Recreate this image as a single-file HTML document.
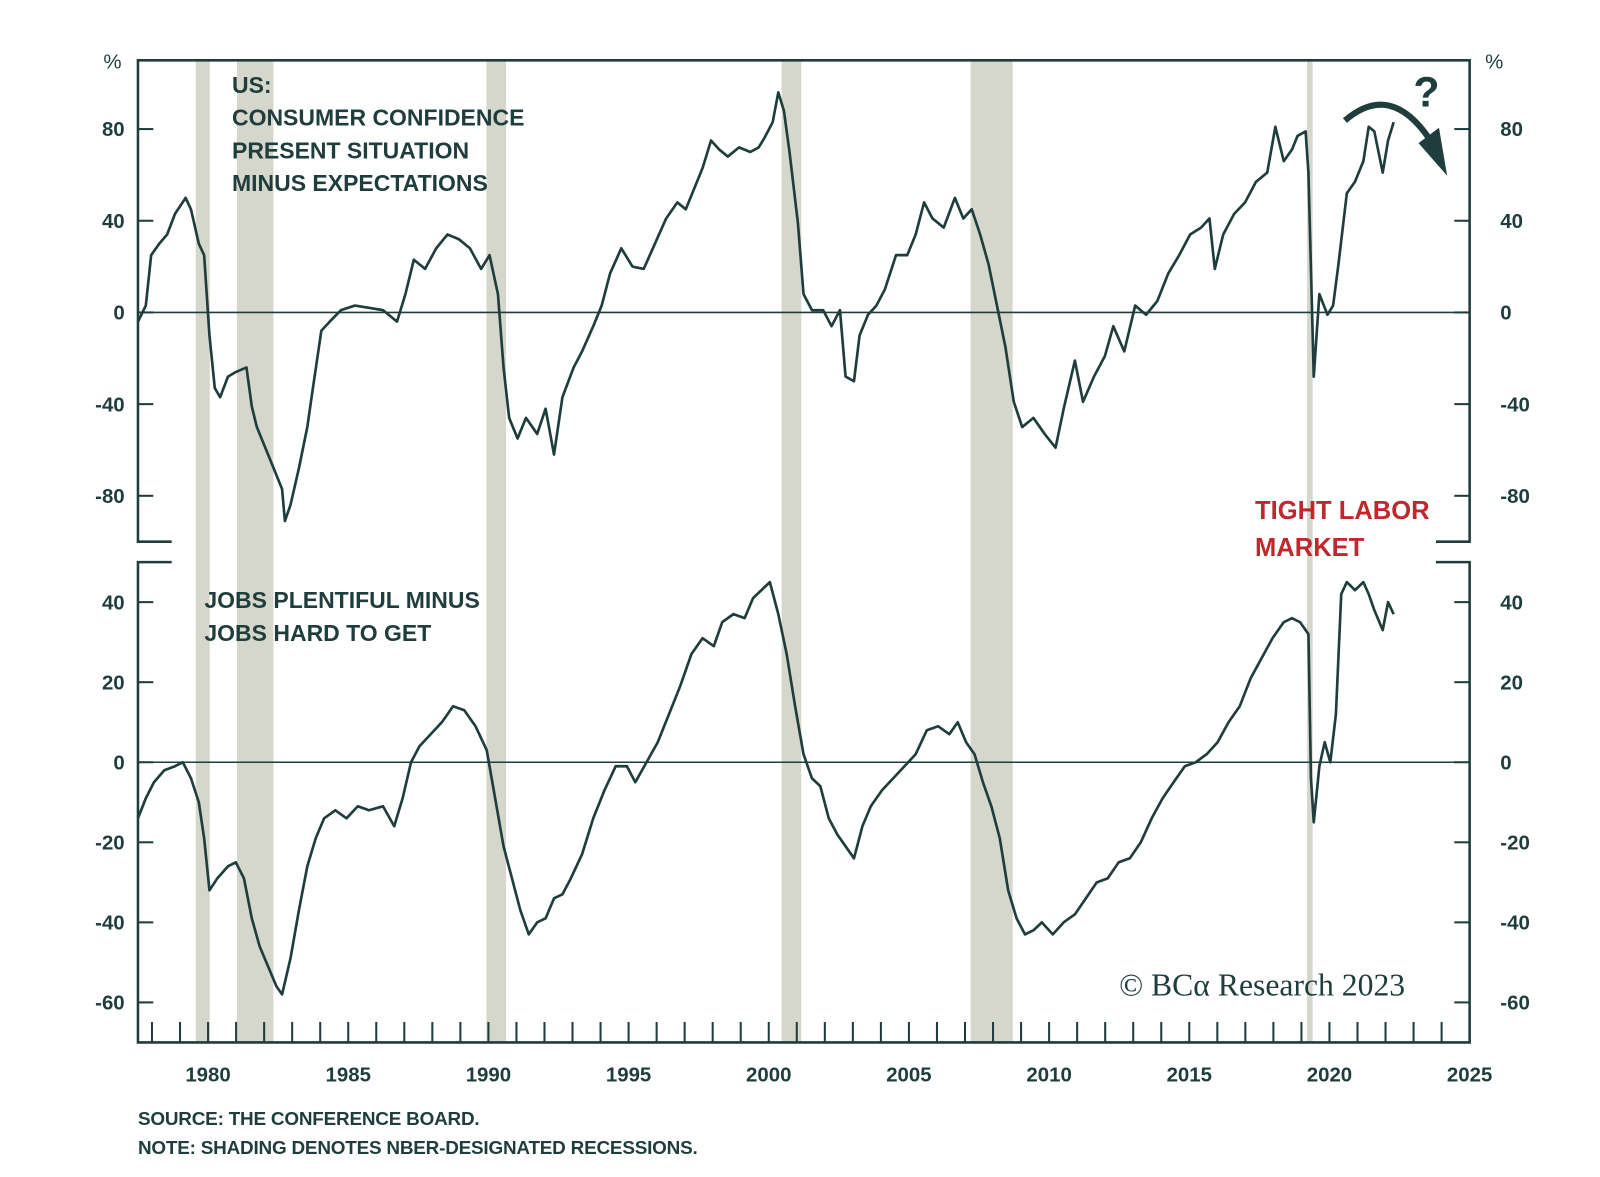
<!DOCTYPE html>
<html><head><meta charset="utf-8"><style>
html,body{margin:0;padding:0;background:#fff;}
svg{display:block;font-family:"Liberation Sans",sans-serif;}
</style></head><body>
<svg id="chart" width="1600" height="1177" viewBox="0 0 1600 1177" xmlns="http://www.w3.org/2000/svg">
<g transform="scale(1.022)">
<g id="shade"></g><g id="grid"></g><g id="lines"></g><g id="frame"></g><g id="labels"></g>
<text x="227" y="91" font-size="22.5" fill="#1f3d3d" font-weight="bold" letter-spacing="0">US:</text>
<text x="227" y="123" font-size="22.5" fill="#1f3d3d" font-weight="bold" letter-spacing="0">CONSUMER CONFIDENCE</text>
<text x="227" y="155" font-size="22.5" fill="#1f3d3d" font-weight="bold" letter-spacing="0">PRESENT SITUATION</text>
<text x="227" y="187" font-size="22.5" fill="#1f3d3d" font-weight="bold" letter-spacing="0">MINUS EXPECTATIONS</text>
<text x="200" y="595" font-size="22.5" fill="#1f3d3d" font-weight="bold" letter-spacing="0">JOBS PLENTIFUL MINUS</text>
<text x="200" y="627" font-size="22.5" fill="#1f3d3d" font-weight="bold" letter-spacing="0">JOBS HARD TO GET</text>
<text x="1228" y="508" font-size="25" fill="#c0282d" font-weight="bold">TIGHT LABOR</text>
<text x="1228" y="544" font-size="25" fill="#c0282d" font-weight="bold">MARKET</text>
<text x="1383" y="104" font-size="42" fill="#1f3d3d" font-weight="bold">?</text>
<path d="M1316 118 Q1360 80 1398 135" fill="none" stroke="#1f3d3d" stroke-width="6"/>
<polygon points="1388,140 1408,125 1416,172" fill="#1f3d3d"/>
<text x="1095" y="974" font-size="31" fill="#1f3d3d" font-family="Liberation Serif, serif">© BCα Research 2023</text>
<text x="135" y="1101" font-size="18.5" fill="#1f3d3d" font-weight="bold" letter-spacing="-0.2">SOURCE: THE CONFERENCE BOARD.</text>
<text x="135" y="1129" font-size="18.5" fill="#1f3d3d" font-weight="bold" letter-spacing="-0.2">NOTE: SHADING DENOTES NBER-DESIGNATED RECESSIONS.</text>
<text x="110" y="67" font-size="20" fill="#1f3d3d" text-anchor="middle">%</text>
<text x="1462" y="67" font-size="20" fill="#1f3d3d" text-anchor="middle">%</text>
</g>
</svg>
<script>
const recStart=[1979.56,1981.03,1989.93,2000.46,2007.2,2019.2];
const recEnd=[1980.06,1982.33,1990.63,2001.16,2008.7,2019.4];
const topYears=[1977.5,1977.78,1977.97,1978.26,1978.54,1978.82,1979.2,1979.39,1979.67,1979.86,1980.05,1980.24,1980.43,1980.71,1980.99,1981.37,1981.56,1981.74,1982.04,1982.34,1982.64,1982.74,1982.94,1983.24,1983.54,1983.74,1984.04,1984.34,1984.74,1985.24,1985.74,1986.24,1986.74,1987.04,1987.34,1987.74,1988.14,1988.54,1988.94,1989.34,1989.74,1990.04,1990.34,1990.54,1990.74,1991.04,1991.34,1991.74,1992.04,1992.34,1992.64,1993.04,1993.34,1993.74,1994.04,1994.34,1994.74,1995.14,1995.54,1995.94,1996.34,1996.74,1997.04,1997.34,1997.64,1997.94,1998.24,1998.54,1998.94,1999.34,1999.64,1999.84,2000.14,2000.34,2000.54,2000.74,2001.04,2001.24,2001.54,2001.94,2002.24,2002.54,2002.74,2003.04,2003.24,2003.54,2003.84,2004.14,2004.54,2004.94,2005.24,2005.54,2005.84,2006.24,2006.64,2006.94,2007.24,2007.54,2007.84,2008.14,2008.44,2008.74,2009.04,2009.44,2009.84,2010.23,2010.52,2010.92,2011.21,2011.6,2011.99,2012.29,2012.68,2013.07,2013.46,2013.86,2014.25,2014.64,2015.03,2015.42,2015.72,2015.91,2016.21,2016.6,2016.99,2017.38,2017.78,2018.07,2018.37,2018.66,2018.86,2019.15,2019.25,2019.44,2019.64,2019.93,2020.13,2020.32,2020.62,2020.91,2021.21,2021.4,2021.6,2021.9,2022.09,2022.29];
const topVals=[-4,3,25,30,34,43,50,45,30,25,-10,-33,-37,-28,-26,-24,-41,-50,-59,-68,-77,-91,-84,-68,-50,-33,-8,-4,1,3,2,1,-4,8,23,19,28,34,32,28,19,25,8,-24,-46,-55,-46,-53,-42,-62,-37,-24,-17,-6,3,17,28,20,19,30,41,48,45,54,63,75,71,68,72,70,72,76,83,96,88,70,39,8,1,1,-6,1,-28,-30,-10,-1,3,10,25,25,34,48,41,37,50,41,45,34,21,3,-15,-39,-50,-46,-53,-59,-42,-21,-39,-28,-19,-6,-17,3,-1,5,17,25,34,37,41,19,34,43,48,57,61,81,66,71,77,79,61,-28,8,-1,3,21,52,57,66,81,79,61,75,83];
const botYears=[1977.5,1977.78,1978.07,1978.44,1978.82,1979.1,1979.39,1979.67,1979.86,1980.05,1980.33,1980.71,1980.99,1981.28,1981.56,1981.84,1982.14,1982.44,1982.64,1982.94,1983.24,1983.54,1983.84,1984.14,1984.54,1984.94,1985.34,1985.74,1986.24,1986.64,1986.94,1987.24,1987.54,1987.94,1988.34,1988.74,1989.14,1989.54,1989.94,1990.24,1990.54,1990.84,1991.14,1991.44,1991.74,1992.04,1992.34,1992.64,1992.94,1993.34,1993.74,1994.14,1994.54,1994.94,1995.24,1995.64,1996.04,1996.44,1996.84,1997.24,1997.64,1998.04,1998.34,1998.74,1999.14,1999.44,1999.74,2000.04,2000.34,2000.64,2000.94,2001.24,2001.54,2001.84,2002.14,2002.44,2002.74,2003.04,2003.34,2003.64,2004.04,2004.44,2004.84,2005.24,2005.64,2006.04,2006.44,2006.74,2007.04,2007.34,2007.64,2007.94,2008.24,2008.54,2008.84,2009.14,2009.44,2009.74,2010.13,2010.52,2010.92,2011.31,2011.7,2012.09,2012.48,2012.88,2013.27,2013.66,2014.05,2014.44,2014.84,2015.23,2015.62,2016.01,2016.4,2016.8,2017.19,2017.58,2017.97,2018.37,2018.66,2018.95,2019.25,2019.34,2019.44,2019.64,2019.83,2020.03,2020.23,2020.42,2020.62,2020.91,2021.21,2021.4,2021.6,2021.9,2022.09,2022.29];
const botVals=[-14,-9,-5,-2,-1,0,-4,-10,-19,-32,-29,-26,-25,-29,-39,-46,-51,-56,-58,-49,-37,-26,-19,-14,-12,-14,-11,-12,-11,-16,-9,0,4,7,10,14,13,9,3,-9,-21,-29,-37,-43,-40,-39,-34,-33,-29,-23,-14,-7,-1,-1,-5,0,5,12,19,27,31,29,35,37,36,41,43,45,37,27,14,2,-4,-6,-14,-18,-21,-24,-16,-11,-7,-4,-1,2,8,9,7,10,5,2,-5,-11,-19,-32,-39,-43,-42,-40,-43,-40,-38,-34,-30,-29,-25,-24,-20,-14,-9,-5,-1,0,2,5,10,14,21,26,31,35,36,35,32,-4,-15,-1,5,0,12,42,45,43,45,42,38,33,40,37];
const topTicks=[80,40,0,-40,-80];
const botTicks=[40,20,0,-20,-40,-60];
const xTicks=[1980,1985,1990,1995,2000,2005,2010,2015,2020,2025];

const L=135,R=1438,X0=1977.5,X1=2025;
const x=v=>L+(v-X0)/(X1-X0)*(R-L);
const T={top:59,bot:530,max:110,min:-100};
const B={top:550,bot:1020,max:50,min:-70};
const yT=v=>T.top+(T.max-v)/(T.max-T.min)*(T.bot-T.top);
const yB=v=>B.top+(B.max-v)/(B.max-B.min)*(B.bot-B.top);
const NS="http://www.w3.org/2000/svg";
const C="#1f3d3d";
function mk(tag,attrs,parent){const e=document.createElementNS(NS,tag);for(const k in attrs)e.setAttribute(k,attrs[k]);document.getElementById(parent).appendChild(e);return e;}

recStart.forEach((s,i)=>{
  const r=mk('rect',{x:x(s),y:T.top,width:x(recEnd[i])-x(s),height:B.bot-T.top,fill:'#d5d6cc'},'shade');
  
  
});
let zl=mk('line',{x1:L,x2:R,y1:yT(0),y2:yT(0),stroke:C,'stroke-width':1.5},'grid');


zl=mk('line',{x1:L,x2:R,y1:yB(0),y2:yB(0),stroke:C,'stroke-width':1.5},'grid');



let p=mk('polyline',{points:topYears.map((t,i)=>x(t)+','+yT(topVals[i])).join(' '),fill:'none',stroke:C,'stroke-width':2.6,'stroke-linejoin':'round'},'lines');


p=mk('polyline',{points:botYears.map((t,i)=>x(t)+','+yB(botVals[i])).join(' '),fill:'none',stroke:C,'stroke-width':2.6,'stroke-linejoin':'round'},'lines');



const fr='M168 '+T.bot+' H'+L+' V'+T.top+' H'+R+' V'+T.bot+' H1405 M168 '+B.top+' H'+L+' V'+B.bot+' H'+R+' V'+B.top+' H1405';
p=mk('path',{d:fr,fill:'none',stroke:C,'stroke-width':2.5},'frame');



function ylab(v,y,panel){
  let t=mk('line',{x1:L,x2:L+15,y1:y,y2:y,stroke:C,'stroke-width':2},'frame');
  
  
  t=mk('line',{x1:R-15,x2:R,y1:y,y2:y,stroke:C,'stroke-width':2},'frame');
  
  
  let a=mk('text',{x:122,y:y+7,'font-size':20,'font-weight':'bold',fill:C,'text-anchor':'end'},'labels');a.textContent=v;
  
  
  a=mk('text',{x:1468,y:y+7,'font-size':20,'font-weight':'bold',fill:C,'text-anchor':'start'},'labels');a.textContent=v;
  
  
}
topTicks.forEach(v=>ylab(v,yT(v),'top'));
botTicks.forEach(v=>ylab(v,yB(v),'bottom'));
for(let yr=1978;yr<=2024;yr++){
  const t=mk('line',{x1:x(yr),x2:x(yr),y1:B.bot,y2:B.bot-20,stroke:C,'stroke-width':2},'frame');
  
  
}
xTicks.forEach(v=>{
  const a=mk('text',{x:x(v),y:1058,'font-size':20,'font-weight':'bold',fill:C,'text-anchor':'middle'},'labels');a.textContent=v;
  
  
});
</script>
</body></html>
